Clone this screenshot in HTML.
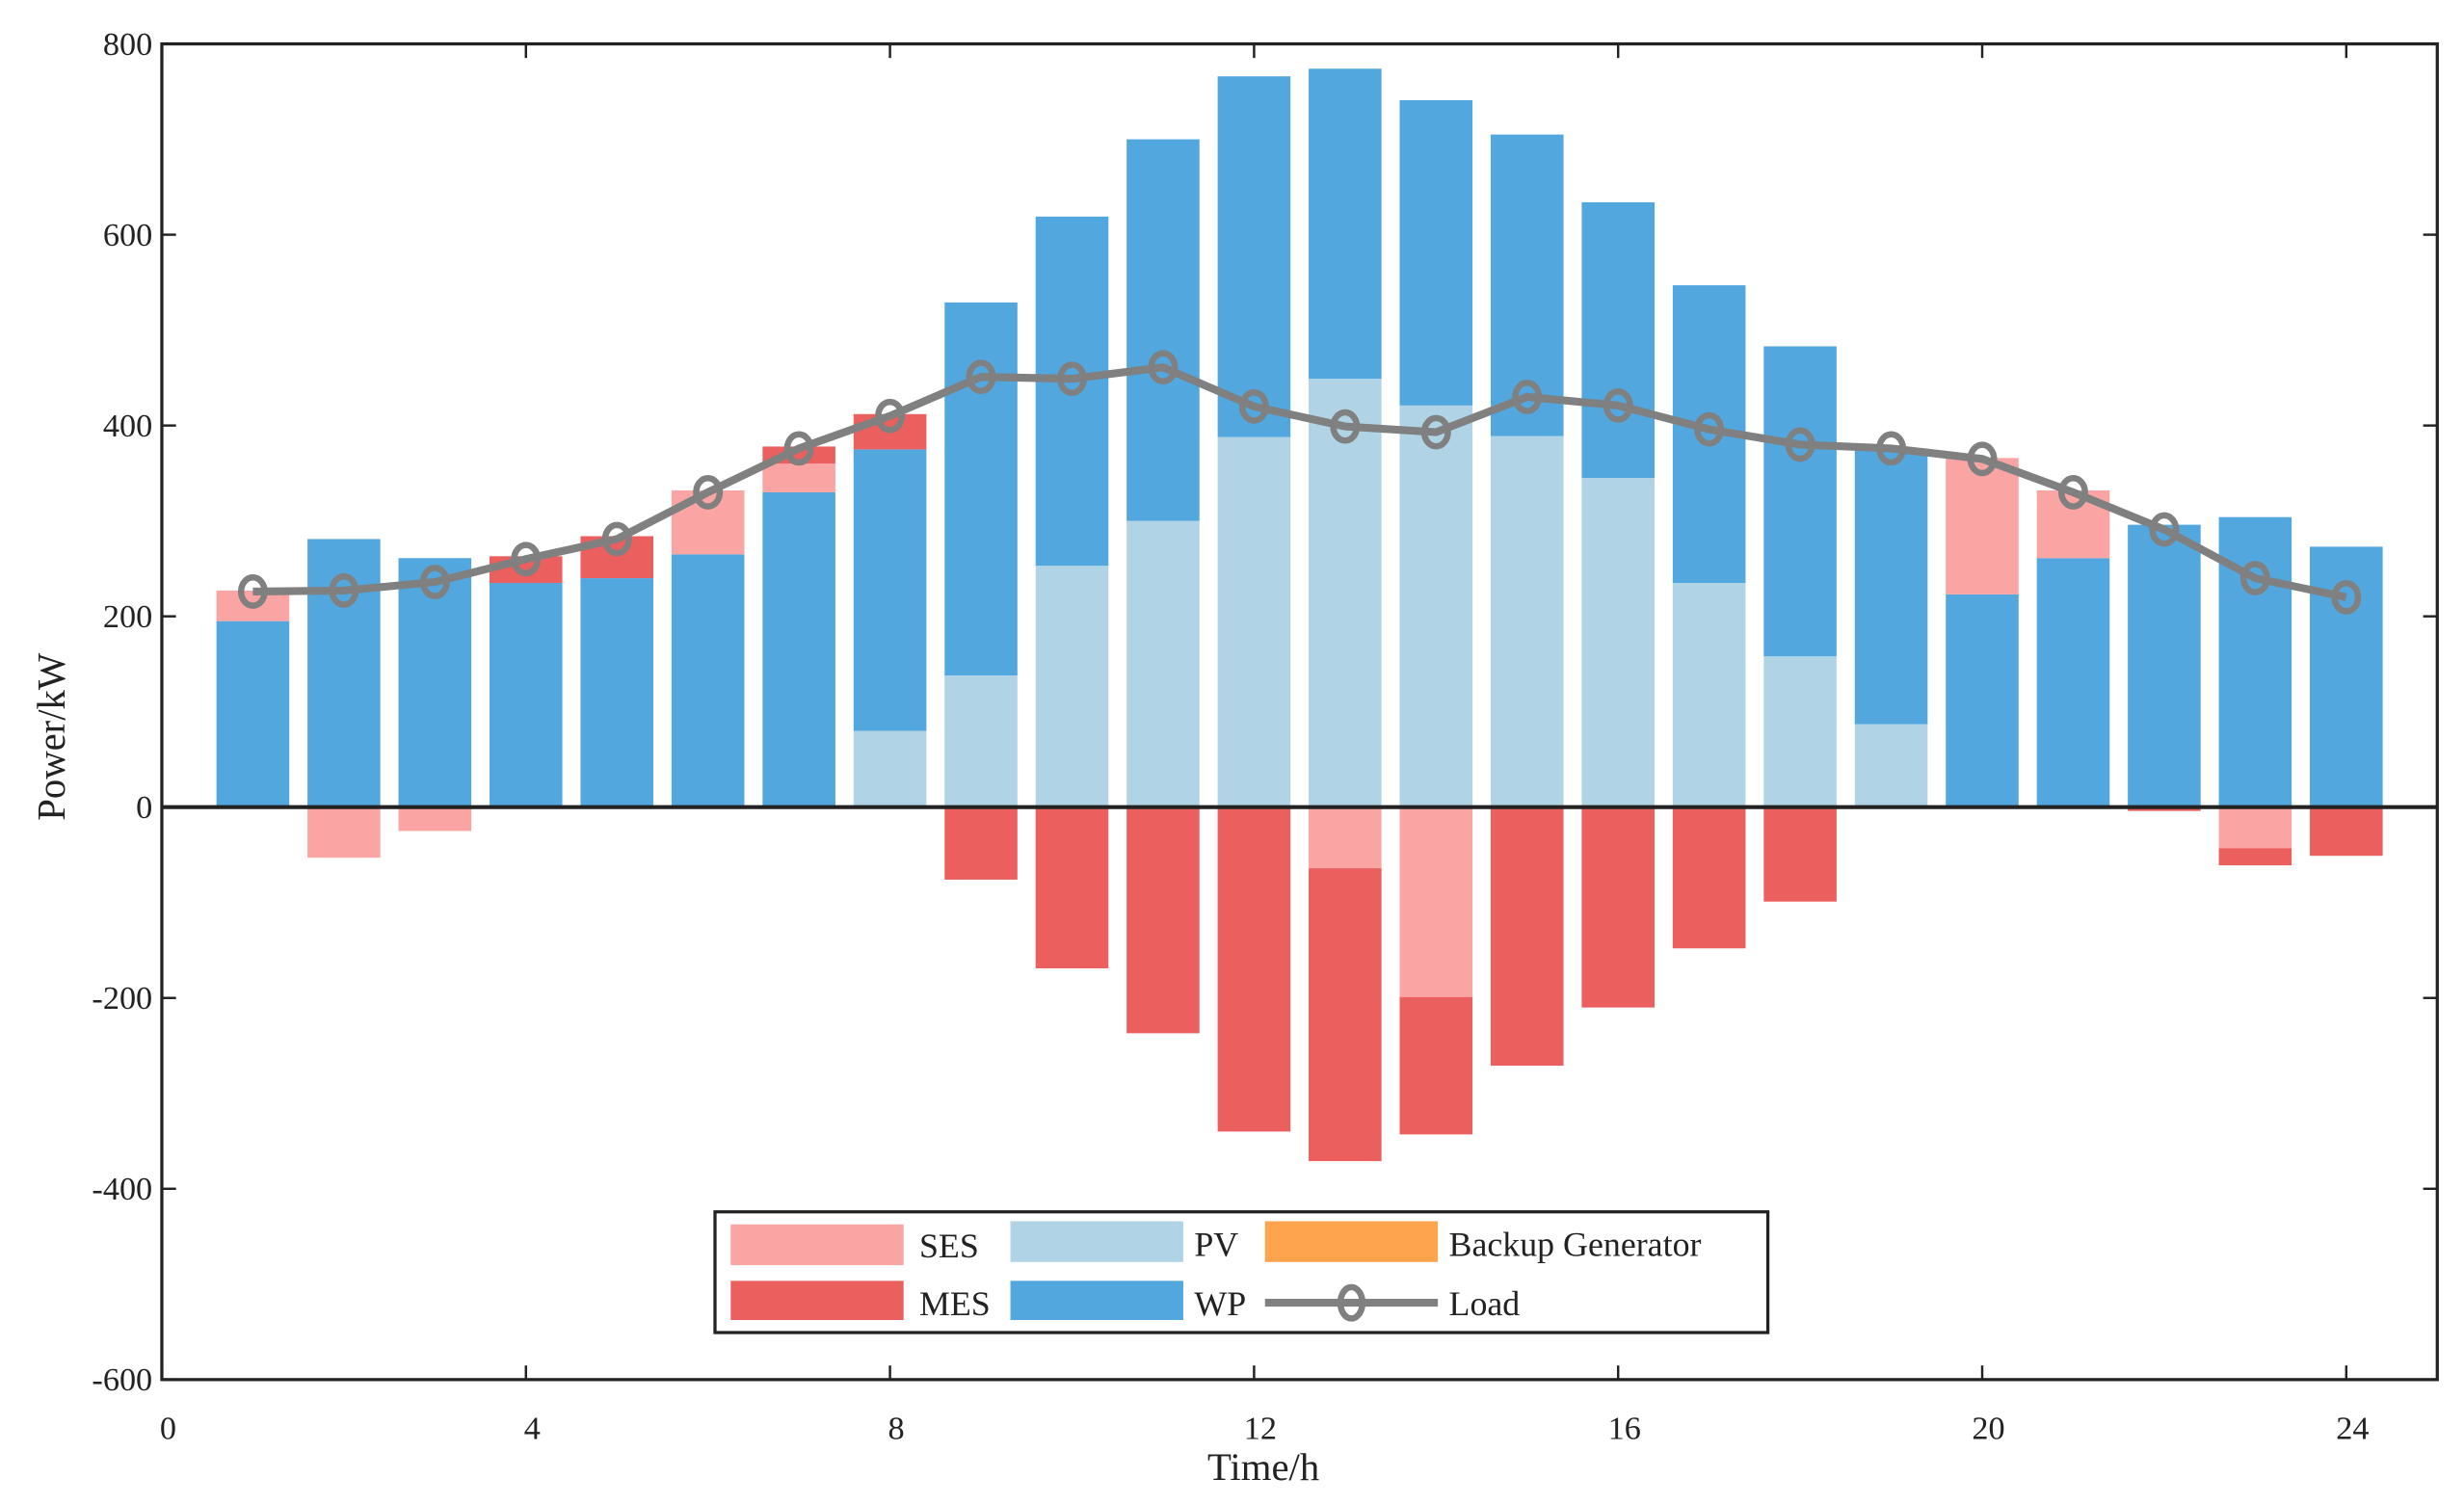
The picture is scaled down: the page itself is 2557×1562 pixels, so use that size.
<!DOCTYPE html>
<html><head><meta charset="utf-8">
<style>html,body{margin:0;padding:0;background:#fff}svg{display:block}text{font-family:"Liberation Serif",serif;fill:#222}</style>
</head><body>
<svg id="chart" width="2557" height="1562" viewBox="0 0 1568 960" preserveAspectRatio="none" xmlns="http://www.w3.org/2000/svg">
<g id="bars"></g>
<g id="axes"></g>
<g id="loadg"></g>
<g>
<rect x="455" y="773" width="670" height="77" fill="#fff" stroke="#222" stroke-width="2"/>
<rect x="465" y="781" width="110" height="26" fill="#FBA4A4"/>
<text x="585" y="802" font-size="22">SES</text>
<rect x="643" y="779" width="110" height="26" fill="#B0D4E6"/>
<text x="760" y="801" font-size="22">PV</text>
<rect x="805" y="779" width="110" height="26" fill="#FDA44D"/>
<text x="922" y="801" font-size="22">Backup Generator</text>
<rect x="465" y="817" width="110" height="25" fill="#EC5F5F"/>
<text x="585" y="839" font-size="22">MES</text>
<rect x="643" y="817" width="110" height="25" fill="#53A7DF"/>
<text x="760" y="839" font-size="22">WP</text>
<line x1="805" y1="831" x2="915" y2="831" stroke="#808080" stroke-width="5"/>
<ellipse cx="860" cy="831" rx="7" ry="10" fill="none" stroke="#808080" stroke-width="4"/>
<text x="922" y="839" font-size="22">Load</text>
</g>
</svg>
<script>
const hours=[1,2,3,4,5,6,7,8,9,10,11,12,13,14,15,16,17,18,19,20,21,22,23,24];
const pv=[0,0,0,0,0,0,0,80,138,253,300,388,449,421,389,345,235,158,87,0,0,0,0,0];
const wp=[195,281,261,235,240,265,330,295,391,366,400,378,325,320,316,289,312,325,289,223,261,296,304,273];
const ses=[32,-53,-25,0,0,67,30,0,0,0,0,0,-64,-199,0,0,0,0,0,143,71,0,-43,0];
const mes=[0,0,0,28,44,0,18,37,-76,-169,-237,-340,-307,-144,-271,-210,-148,-99,0,0,0,-4,-18,-51];
const load=[226,227,236,260,281,330,376,410,451,449,461,420,399,393,430,421,396,380,376,365,330,291,240,220];
const xTicks=[0,4,8,12,16,20,24];
const yTicks=[-600,-400,-200,0,200,400,600,800];
const NS="http://www.w3.org/2000/svg";
const L=103,R=1551,T=28,B=880,xmin=0,xmax=25,ymin=-600,ymax=800;
const X=v=>L+(v-xmin)/(xmax-xmin)*(R-L);
const Y=v=>B-(v-ymin)/(ymax-ymin)*(B-T);
function mk(tag,attrs,parent){const e=document.createElementNS(NS,tag);for(const k in attrs)e.setAttribute(k,attrs[k]);parent.appendChild(e);return e;}
const bars=document.getElementById('bars');
const bw=0.8;
hours.forEach((h,i)=>{
  let pos=0,neg=0;
  const segs=[['pv',pv[i],'#B0D4E6'],['wp',wp[i],'#53A7DF'],['ses',ses[i],'#FBA4A4'],['mes',mes[i],'#EC5F5F']];
  segs.forEach(([n,v,c])=>{
    if(!v)return;
    let a,b;
    if(v>0){a=pos;b=pos+v;pos=b;}else{a=neg;b=neg+v;neg=b;}
    const r=mk('rect',{x:X(h-bw/2),y:Y(Math.max(a,b)),width:X(h+bw/2)-X(h-bw/2),height:Math.abs(Y(a)-Y(b)),fill:c},bars);
    
    
  });
});
const ax=document.getElementById('axes');
mk('line',{x1:L,y1:Y(0),x2:R,y2:Y(0),stroke:'#222','stroke-width':2.5},ax);
mk('rect',{x:L,y:T,width:R-L,height:B-T,fill:'none',stroke:'#222','stroke-width':2},ax);
xTicks.forEach(t=>{
  mk('line',{x1:X(t),y1:B,x2:X(t),y2:B-9,stroke:'#222','stroke-width':1.5},ax);
  mk('line',{x1:X(t),y1:T,x2:X(t),y2:T+9,stroke:'#222','stroke-width':1.5},ax);
  const tx=mk('text',{x:X(t)+4,y:B+38,'font-size':21,'text-anchor':'middle'},ax);tx.textContent=t;
  
  
});
yTicks.forEach(t=>{
  mk('line',{x1:L,y1:Y(t),x2:L+9,y2:Y(t),stroke:'#222','stroke-width':1.5},ax);
  mk('line',{x1:R,y1:Y(t),x2:R-9,y2:Y(t),stroke:'#222','stroke-width':1.5},ax);
  const tx=mk('text',{x:L-6,y:Y(t)+7,'font-size':21,'text-anchor':'end'},ax);tx.textContent=t;
  
  
});
const xl=mk('text',{x:804,y:944,'font-size':25,'text-anchor':'middle'},ax);xl.textContent='Time/h';


const yl=mk('text',{x:41,y:470,'font-size':25,'text-anchor':'middle',transform:'rotate(-90 41 470)'},ax);yl.textContent='Power/kW';


const lg=document.getElementById('loadg');
const pl=mk('polyline',{points:hours.map((h,i)=>X(h)+','+Y(load[i])).join(' '),fill:'none',stroke:'#808080','stroke-width':5},lg);


hours.forEach((h,i)=>{
  const c=mk('ellipse',{cx:X(h),cy:Y(load[i]),rx:7.5,ry:9,fill:'none',stroke:'#808080','stroke-width':4},lg);
  
  
});
</script>
</body></html>
